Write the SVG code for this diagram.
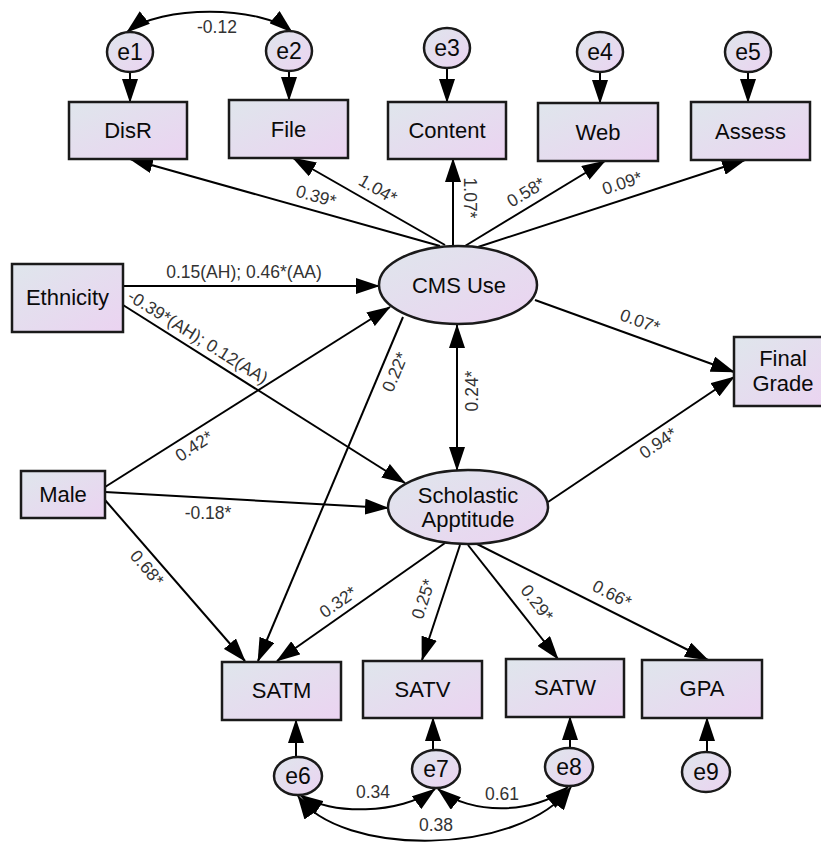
<svg xmlns="http://www.w3.org/2000/svg" width="821" height="843" viewBox="0 0 821 843">
<defs>
<linearGradient id="g" x1="0" y1="0" x2="1" y2="1">
<stop offset="0" stop-color="#dfe6ec"/>
<stop offset="1" stop-color="#ebd3f1"/>
</linearGradient>
<marker id="ah" markerUnits="userSpaceOnUse" markerWidth="24" markerHeight="16" viewBox="0 0 24 16" refX="23" refY="8" orient="auto-start-reverse">
<path d="M0,0 L24,8 L0,16 z" fill="#000"/>
</marker>
</defs>
<style>
.box{fill:url(#g);stroke:#1a1a1a;stroke-width:2.5}
.nt{font-family:"Liberation Sans",Arial,sans-serif;font-size:22px;fill:#0a0a0a;text-anchor:middle;dominant-baseline:central}
.et{font-family:"Liberation Sans",Arial,sans-serif;font-size:23px;fill:#0a0a0a;text-anchor:middle;dominant-baseline:central}
.lb{font-family:"Liberation Sans",Arial,sans-serif;font-size:17.5px;fill:#333;text-anchor:middle;dominant-baseline:central}
.c{fill:none;stroke:#000;stroke-width:2;marker-end:url(#ah)}
.d{fill:none;stroke:#000;stroke-width:2;marker-start:url(#ah);marker-end:url(#ah)}
</style>

<g id="connectors">
<line class="c" x1="130" y1="72" x2="130" y2="102"/>
<line class="c" x1="289" y1="71" x2="289" y2="100"/>
<line class="c" x1="447" y1="68" x2="447" y2="102"/>
<line class="c" x1="600" y1="72" x2="600" y2="103"/>
<line class="c" x1="748" y1="72" x2="748" y2="102"/>
<path class="d" d="M127,32 C160,5 260,5 292,32"/>
<line class="c" x1="440" y1="246" x2="130" y2="159"/>
<line class="c" x1="445" y1="245" x2="293" y2="158"/>
<line class="c" x1="453" y1="246" x2="453" y2="159"/>
<line class="c" x1="465" y1="246" x2="605" y2="161"/>
<line class="c" x1="478" y1="247" x2="745" y2="160"/>
<line class="c" x1="123" y1="286" x2="379" y2="286"/>
<line class="c" x1="123" y1="305" x2="405" y2="483"/>
<line class="c" x1="105" y1="487" x2="390" y2="307"/>
<line class="c" x1="105" y1="492" x2="388" y2="508"/>
<line class="c" x1="105" y1="500" x2="245" y2="661"/>
<line class="c" x1="403" y1="317" x2="258" y2="661"/>
<line class="d" x1="457" y1="325" x2="457" y2="470"/>
<line class="c" x1="535" y1="300" x2="734" y2="372"/>
<line class="c" x1="548" y1="502" x2="734" y2="377"/>
<line class="c" x1="445" y1="543" x2="277" y2="661"/>
<line class="c" x1="460" y1="545" x2="422" y2="660"/>
<line class="c" x1="468" y1="545" x2="558" y2="659"/>
<line class="c" x1="477" y1="544" x2="708" y2="660"/>
<line class="c" x1="296" y1="757" x2="296" y2="720"/>
<line class="c" x1="433" y1="750" x2="433" y2="718"/>
<line class="c" x1="570" y1="748" x2="570" y2="717"/>
<line class="c" x1="707" y1="752" x2="707" y2="718"/>
<path class="d" d="M300,795 C330,815 400,815 435,789"/>
<path class="d" d="M438,789 C470,815 535,815 568,787"/>
<path class="d" d="M298,796 C340,857 520,857 571,787"/>
</g>

<g id="labels">
<text class="lb" x="217" y="27">-0.12</text>
<text class="lb" transform="translate(316,196) rotate(16)">0.39*</text>
<text class="lb" transform="translate(378,189) rotate(30)">1.04*</text>
<text class="lb" transform="translate(470,198) rotate(90)">1.07*</text>
<text class="lb" transform="translate(526,192) rotate(-31)">0.58*</text>
<text class="lb" transform="translate(622,183) rotate(-18)">0.09*</text>
<text class="lb" x="244" y="272">0.15(AH); 0.46*(AA)</text>
<text class="lb" transform="translate(198,337) rotate(32)">-0.39*(AH); 0.12(AA)</text>
<text class="lb" transform="translate(194,446) rotate(-33)">0.42*</text>
<text class="lb" transform="translate(395,372) rotate(-67)">0.22*</text>
<text class="lb" transform="translate(472,391) rotate(-90)">0.24*</text>
<text class="lb" transform="translate(640,321) rotate(20)">0.07*</text>
<text class="lb" transform="translate(658,443) rotate(-34)">0.94*</text>
<text class="lb" x="208" y="513">-0.18*</text>
<text class="lb" transform="translate(147,568) rotate(49)">0.68*</text>
<text class="lb" transform="translate(338,602) rotate(-35)">0.32*</text>
<text class="lb" transform="translate(423,599) rotate(-72)">0.25*</text>
<text class="lb" transform="translate(537,603) rotate(52)">0.29*</text>
<text class="lb" transform="translate(612,594) rotate(27)">0.66*</text>
<text class="lb" x="373" y="792">0.34</text>
<text class="lb" x="502" y="794">0.61</text>
<text class="lb" x="436" y="825">0.38</text>
</g>

<g id="e1"><ellipse class="box" cx="130" cy="52" rx="23" ry="20"/><text class="et" x="130" y="52">e1</text></g>
<g id="e2"><ellipse class="box" cx="289" cy="51" rx="23" ry="20"/><text class="et" x="289" y="51">e2</text></g>
<g id="e3"><ellipse class="box" cx="447" cy="48" rx="23" ry="20"/><text class="et" x="447" y="48">e3</text></g>
<g id="e4"><ellipse class="box" cx="600" cy="52" rx="23" ry="20"/><text class="et" x="600" y="52">e4</text></g>
<g id="e5"><ellipse class="box" cx="748" cy="52" rx="23" ry="20"/><text class="et" x="748" y="52">e5</text></g>

<g id="DisR"><rect class="box" x="69" y="102" width="118" height="57"/><text class="nt" x="128" y="130">DisR</text></g>
<g id="File"><rect class="box" x="229" y="100" width="119" height="58"/><text class="nt" x="288.5" y="129">File</text></g>
<g id="Content"><rect class="box" x="388" y="102" width="118" height="57"/><text class="nt" x="447" y="130">Content</text></g>
<g id="Web"><rect class="box" x="538" y="103" width="120" height="58"/><text class="nt" x="598" y="132">Web</text></g>
<g id="Assess"><rect class="box" x="691" y="102" width="119" height="58"/><text class="nt" x="750.5" y="131">Assess</text></g>

<g id="CMSUse"><ellipse class="box" cx="458" cy="285" rx="79" ry="39"/><text class="nt" x="459" y="285">CMS Use</text></g>
<g id="Ethnicity"><rect class="box" x="12" y="264" width="111" height="68"/><text class="nt" x="67.5" y="297">Ethnicity</text></g>
<g id="Male"><rect class="box" x="21" y="471" width="84" height="47"/><text class="nt" x="63" y="494">Male</text></g>
<g id="Scholastic"><ellipse class="box" cx="468" cy="507" rx="80" ry="37"/><text class="nt" x="468" y="495">Scholastic</text><text class="nt" x="468" y="519">Apptitude</text></g>
<g id="FinalGrade"><rect class="box" x="734" y="337" width="98" height="69"/><text class="nt" x="783" y="358">Final</text><text class="nt" x="783" y="383">Grade</text></g>

<g id="SATM"><rect class="box" x="222" y="662" width="119" height="58"/><text class="nt" x="281.5" y="690">SATM</text></g>
<g id="SATV"><rect class="box" x="363" y="661" width="119" height="57"/><text class="nt" x="422.5" y="689">SATV</text></g>
<g id="SATW"><rect class="box" x="506" y="659" width="118" height="58"/><text class="nt" x="565" y="687">SATW</text></g>
<g id="GPA"><rect class="box" x="642" y="660" width="120" height="58"/><text class="nt" x="702" y="688">GPA</text></g>

<g id="e6"><ellipse class="box" cx="298" cy="776" rx="24" ry="19"/><text class="et" x="298" y="776">e6</text></g>
<g id="e7"><ellipse class="box" cx="436" cy="769" rx="24" ry="19"/><text class="et" x="436" y="769">e7</text></g>
<g id="e8"><ellipse class="box" cx="569" cy="767" rx="24" ry="19"/><text class="et" x="569" y="767">e8</text></g>
<g id="e9"><ellipse class="box" cx="706" cy="772" rx="24" ry="20"/><text class="et" x="706" y="772">e9</text></g>
</svg>
